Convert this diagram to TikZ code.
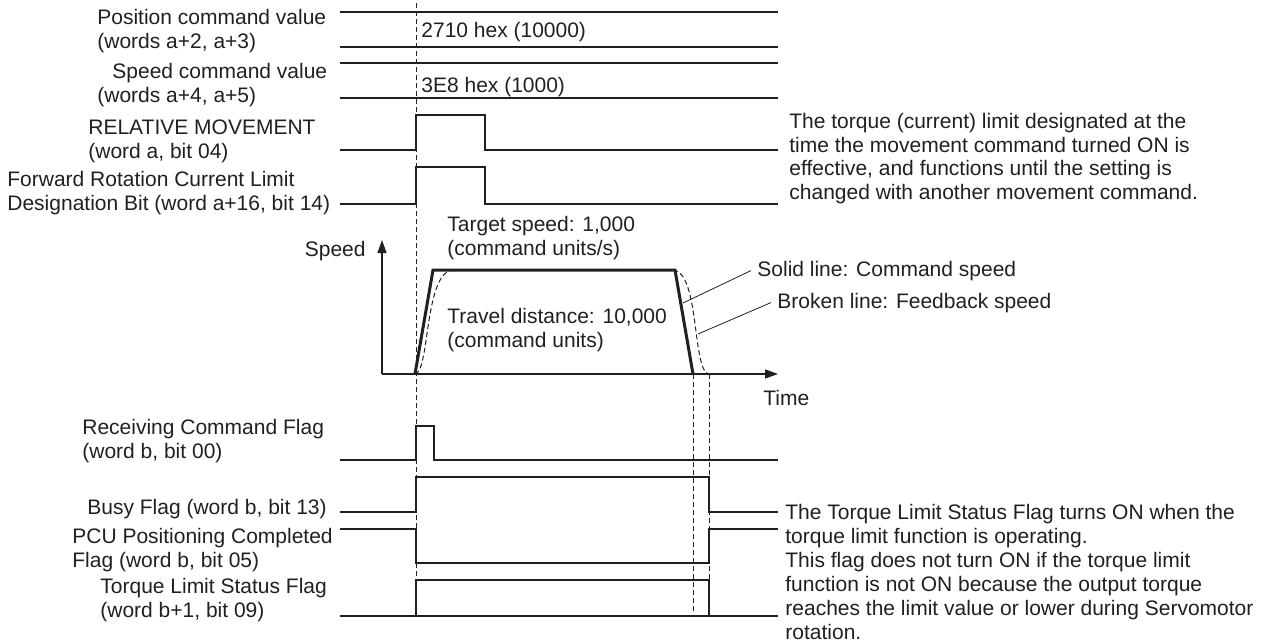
\documentclass[tikz,border=0pt]{standalone}
\usepackage{fontspec}
\setmainfont{Liberation Sans}
\usepackage{xcolor}
\usetikzlibrary{arrows.meta}
\definecolor{ink}{HTML}{231F20}

\begin{document}
\begin{tikzpicture}[x=0.5pt, y=-0.5pt, font=\fontsize{10.5}{12}\selectfont, color=ink,
      lbl/.style={anchor=base west, inner sep=0pt, align=left},
      sig/.style={line width=0.6pt},
      guide/.style={line width=0.5pt, dash pattern=on 2.5pt off 1.5pt},
      axis/.style={line width=0.6pt, -{Triangle[length=6.5pt, width=4.5pt]}}]
    \useasboundingbox (0,0) rectangle (1274,643);

    % signal names (anchored at the last line)
    \node[lbl] (pos) at (97,48) {Position command value\\(words a+2, a+3)};
    \node[lbl] (spd) at (97,102) {\hspace*{7.5pt}Speed command value\\(words a+4, a+5)};
    \node[lbl] (rel) at (88,158) {RELATIVE MOVEMENT\\(word a, bit 04)};
    \node[lbl] (fwd) at (7,210) {Forward Rotation Current Limit\\Designation Bit (word a+16, bit 14)};
    \node[lbl] (rcv) at (82,458) {Receiving Command Flag\\(word b, bit 00)};
    \node[lbl] (busy) at (87,514) {Busy Flag (word b, bit 13)};
    \node[lbl] (pcu) at (72,567) {PCU Positioning Completed\\Flag (word b, bit 05)};
    \node[lbl] (trq) at (100,617) {Torque Limit Status Flag\\(word b+1, bit 09)};

    % data values
    \node[lbl] (posval) at (421,37) {2710 hex (10000)};
    \node[lbl] (spdval) at (421,92) {3E8 hex (1000)};
    \draw[sig] (340,12) -- (778,12) (340,47) -- (778,47);
    \draw[sig] (340,63) -- (778,63) (340,98) -- (778,98);

    % bits
    \draw[sig] (340,150) -- (416,150) -- (416,115) -- (485,115) -- (485,150) -- (778,150);
    \draw[sig] (340,204) -- (416,204) -- (416,167) -- (485,167) -- (485,204) -- (778,204);
    \draw[sig] (340,460) -- (416,460) -- (416,426) -- (434,426) -- (434,460) -- (778,460);
    \draw[sig] (340,512) -- (416,512) -- (416,477) -- (709,477) -- (709,512) -- (778,512);
    \draw[sig] (340,529) -- (416,529) -- (416,563) -- (709,563) -- (709,529) -- (778,529);
    \draw[sig] (340,616) -- (778,616) (416,616) -- (416,580) -- (709,580) -- (709,616);

    % timing guides
    \draw[guide] (416,3) -- (416,616);
    \draw[guide] (693,374) -- (693,612);
    \draw[guide] (709,374) -- (709,616);

    % speed profile
    \draw[axis] (382,374) -- (382,240);
    \draw[axis] (382,374) -- (778,374);
    \node[lbl, anchor=base east] (speed) at (366,256) {Speed};
    \node[lbl] (time) at (763,405) {Time};
    \draw[line width=1.5pt] (415,374) -- (433,270) -- (675,270) -- (693,374);
    \draw[guide] (415,374) .. controls (430,372) and (424,272) .. (453,270);
    \draw[guide] (673,270) .. controls (700,272) and (692,372) .. (709,374);
    \node[lbl] (target) at (447,255) {Target speed: 1,000\\(command units/s)};
    \node[lbl] (travel) at (447,347) {Travel distance: 10,000\\(command units)};
    \node[lbl] (cmd) at (757,276) {Solid line: Command speed};
    \node[lbl] (fb) at (777,308) {Broken line: Feedback speed};
    \coordinate (cmdpt) at (683,303);
    \coordinate (fbpt) at (698,334);
    \draw[sig, line width=0.4pt] (cmdpt) -- ([xshift=-3pt]cmd.west);
    \draw[sig, line width=0.4pt] (fbpt) -- ([xshift=-3pt]fb.west);

    % notes
    \node[lbl, font=\fontsize{10.5}{11.7}\selectfont] (note1) at (789,199)
      {The torque (current) limit designated at the\\time the movement command turned ON is\\effective, and functions until the setting is\\changed with another movement command.};
    \node[lbl] (note2) at (785,639)
      {The Torque Limit Status Flag turns ON when the\\torque limit function is operating.\\This flag does not turn ON if the torque limit\\function is not ON because the output torque\\reaches the limit value or lower during Servomotor\\rotation.};
  \end{tikzpicture}
\end{document}
